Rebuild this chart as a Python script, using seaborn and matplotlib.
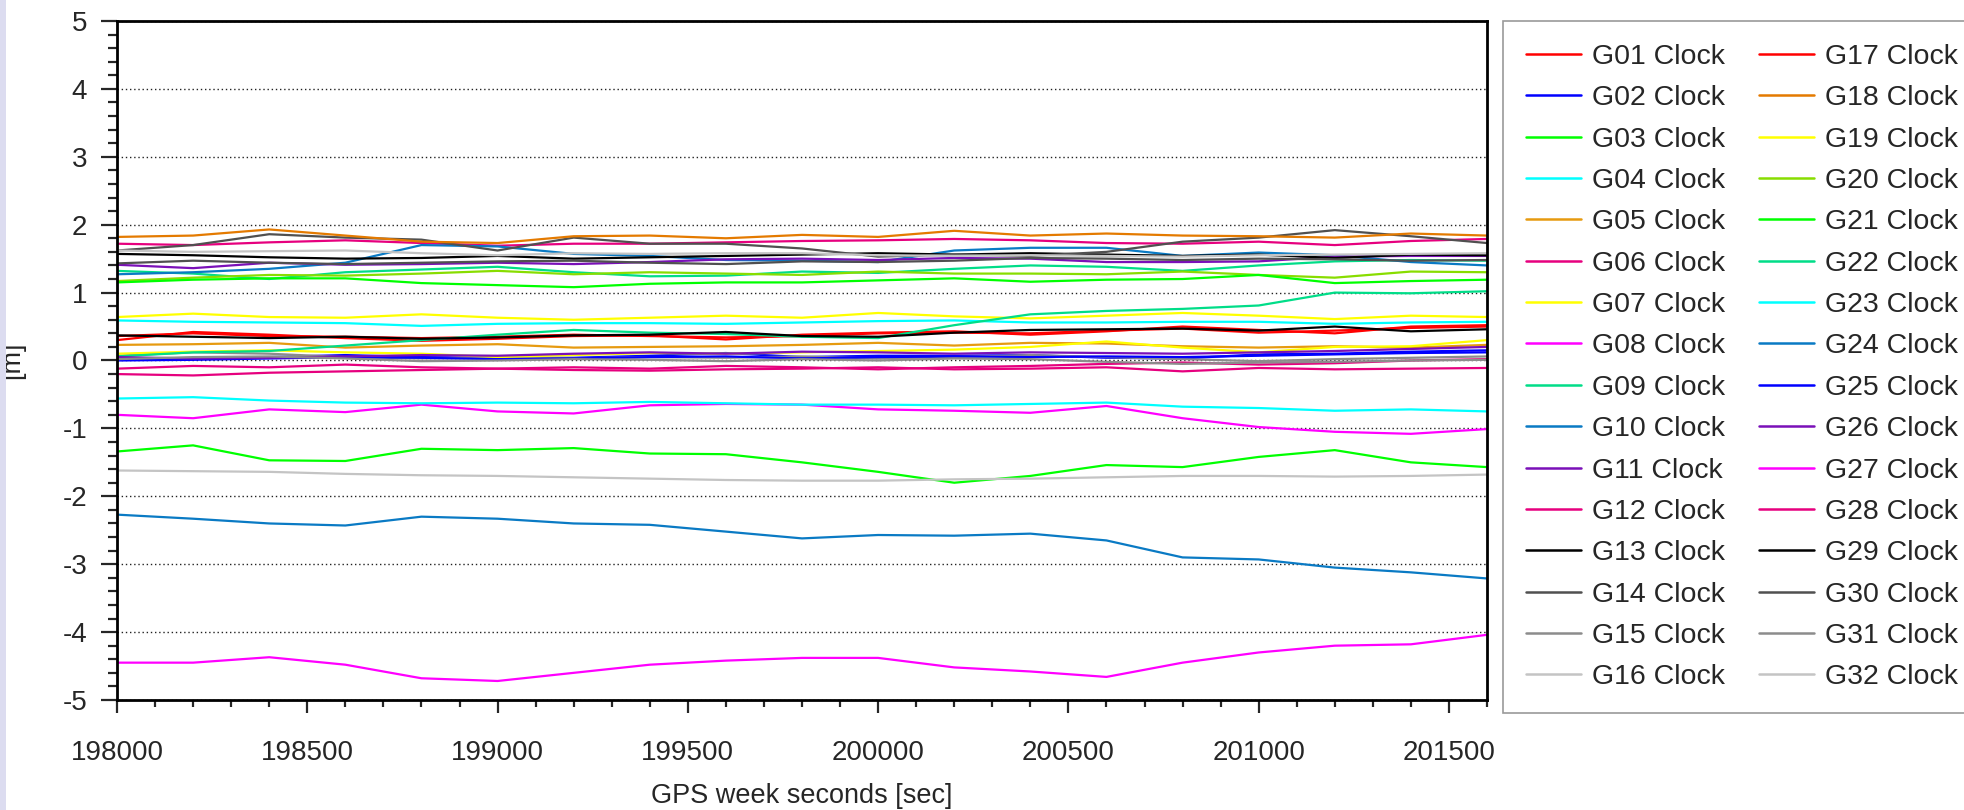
import numpy as np
import pandas as pd
import matplotlib
matplotlib.use("Agg")
import matplotlib.pyplot as plt
from matplotlib.patches import Rectangle
from matplotlib.ticker import MultipleLocator, StrMethodFormatter
import seaborn as sns

# GPS week seconds sampled every 200 s
gps_seconds = [198000, 198200, 198400, 198600, 198800, 199000, 199200, 199400, 199600, 199800,
               200000, 200200, 200400, 200600, 200800, 201000, 201200, 201400, 201600]

# satellite clock values [m]
g01 = [0.30, 0.42, 0.38, 0.33, 0.29, 0.32, 0.36, 0.37, 0.31, 0.38, 0.41, 0.43, 0.38, 0.43, 0.50, 0.45, 0.40, 0.50, 0.52]
g02 = [0.02, 0.03, 0.05, 0.08, 0.05, 0.04, 0.04, 0.07, 0.11, 0.05, 0.07, 0.07, 0.08, 0.04, 0.03, 0.09, 0.10, 0.13, 0.15]
g03 = [-1.34, -1.25, -1.47, -1.48, -1.30, -1.32, -1.29, -1.37, -1.38, -1.50, -1.64, -1.80, -1.70, -1.54, -1.57, -1.42, -1.32, -1.50, -1.57]
g04 = [0.59, 0.57, 0.56, 0.55, 0.51, 0.54, 0.55, 0.55, 0.54, 0.56, 0.58, 0.59, 0.56, 0.56, 0.57, 0.57, 0.54, 0.56, 0.57]
g05 = [0.23, 0.24, 0.26, 0.19, 0.22, 0.24, 0.19, 0.20, 0.21, 0.23, 0.26, 0.22, 0.26, 0.25, 0.21, 0.19, 0.21, 0.19, 0.23]
g06 = [1.72, 1.70, 1.74, 1.77, 1.73, 1.69, 1.72, 1.72, 1.74, 1.76, 1.77, 1.79, 1.77, 1.73, 1.72, 1.75, 1.70, 1.76, 1.79]
g07 = [0.64, 0.69, 0.64, 0.63, 0.68, 0.63, 0.60, 0.63, 0.66, 0.63, 0.70, 0.65, 0.62, 0.66, 0.70, 0.66, 0.61, 0.66, 0.64]
g08 = [-0.80, -0.85, -0.72, -0.76, -0.65, -0.75, -0.78, -0.66, -0.64, -0.65, -0.72, -0.74, -0.77, -0.67, -0.85, -0.98, -1.05, -1.08, -1.01]
g09 = [1.32, 1.28, 1.20, 1.30, 1.34, 1.38, 1.30, 1.24, 1.25, 1.31, 1.29, 1.35, 1.40, 1.38, 1.32, 1.40, 1.46, 1.48, 1.47]
g10 = [1.27, 1.30, 1.35, 1.44, 1.70, 1.68, 1.57, 1.54, 1.48, 1.47, 1.45, 1.62, 1.66, 1.66, 1.54, 1.59, 1.55, 1.45, 1.40]
g11 = [1.41, 1.36, 1.44, 1.41, 1.42, 1.44, 1.42, 1.45, 1.49, 1.50, 1.48, 1.51, 1.50, 1.45, 1.45, 1.46, 1.53, 1.54, 1.54]
g12 = [-0.12, -0.08, -0.10, -0.06, -0.10, -0.12, -0.10, -0.12, -0.08, -0.10, -0.13, -0.10, -0.08, -0.05, -0.03, -0.06, -0.04, 0.00, 0.02]
g13 = [1.57, 1.55, 1.52, 1.50, 1.51, 1.54, 1.50, 1.52, 1.54, 1.56, 1.58, 1.56, 1.58, 1.56, 1.54, 1.56, 1.51, 1.56, 1.55]
g14 = [1.62, 1.70, 1.86, 1.81, 1.78, 1.62, 1.81, 1.72, 1.72, 1.65, 1.53, 1.56, 1.54, 1.60, 1.75, 1.81, 1.92, 1.83, 1.73]
g15 = [0.07, 0.12, 0.10, 0.05, 0.03, 0.04, 0.03, 0.05, 0.04, 0.06, 0.03, 0.05, 0.08, 0.05, 0.02, -0.01, 0.02, 0.04, 0.06]
g16 = [1.62, 1.60, 1.61, 1.62, 1.58, 1.55, 1.58, 1.57, 1.58, 1.58, 1.55, 1.54, 1.55, 1.54, 1.53, 1.55, 1.56, 1.57, 1.58]
g17 = [0.36, 0.40, 0.36, 0.35, 0.33, 0.35, 0.38, 0.36, 0.34, 0.36, 0.40, 0.41, 0.40, 0.44, 0.47, 0.41, 0.44, 0.48, 0.50]
g18 = [1.82, 1.84, 1.93, 1.84, 1.75, 1.73, 1.83, 1.84, 1.80, 1.85, 1.82, 1.91, 1.84, 1.87, 1.84, 1.83, 1.81, 1.87, 1.84]
g19 = [0.10, 0.13, 0.15, 0.12, 0.10, 0.05, 0.08, 0.11, 0.10, 0.12, 0.14, 0.16, 0.20, 0.28, 0.19, 0.12, 0.20, 0.21, 0.30]
g20 = [1.17, 1.22, 1.26, 1.25, 1.28, 1.32, 1.27, 1.30, 1.28, 1.26, 1.31, 1.28, 1.28, 1.27, 1.31, 1.26, 1.22, 1.31, 1.30]
g21 = [1.15, 1.19, 1.21, 1.21, 1.14, 1.11, 1.08, 1.13, 1.15, 1.15, 1.18, 1.21, 1.16, 1.19, 1.20, 1.26, 1.14, 1.17, 1.19]
g22 = [0.06, 0.12, 0.14, 0.22, 0.30, 0.38, 0.45, 0.41, 0.39, 0.35, 0.33, 0.52, 0.68, 0.73, 0.76, 0.81, 1.00, 0.99, 1.02]
g23 = [-0.56, -0.54, -0.59, -0.62, -0.63, -0.62, -0.63, -0.61, -0.63, -0.65, -0.65, -0.66, -0.64, -0.62, -0.68, -0.70, -0.74, -0.72, -0.75]
g24 = [-2.27, -2.33, -2.40, -2.43, -2.30, -2.33, -2.40, -2.42, -2.52, -2.62, -2.57, -2.58, -2.55, -2.65, -2.90, -2.93, -3.05, -3.12, -3.21]
g25 = [0.00, 0.01, 0.03, 0.05, 0.04, 0.02, 0.03, 0.05, 0.06, 0.03, 0.05, 0.06, 0.05, 0.06, 0.05, 0.07, 0.09, 0.11, 0.12]
g26 = [0.05, 0.03, 0.04, 0.06, 0.08, 0.07, 0.10, 0.12, 0.10, 0.13, 0.12, 0.10, 0.12, 0.11, 0.10, 0.12, 0.14, 0.17, 0.20]
g27 = [-4.45, -4.45, -4.37, -4.48, -4.68, -4.72, -4.60, -4.48, -4.42, -4.38, -4.38, -4.52, -4.58, -4.66, -4.45, -4.30, -4.20, -4.18, -4.04]
g28 = [-0.20, -0.22, -0.18, -0.16, -0.14, -0.12, -0.14, -0.15, -0.13, -0.12, -0.10, -0.13, -0.12, -0.10, -0.16, -0.11, -0.13, -0.12, -0.11]
g29 = [0.37, 0.35, 0.33, 0.35, 0.32, 0.34, 0.37, 0.38, 0.42, 0.36, 0.35, 0.41, 0.45, 0.46, 0.47, 0.44, 0.50, 0.43, 0.46]
g30 = [1.43, 1.47, 1.44, 1.42, 1.44, 1.46, 1.47, 1.44, 1.42, 1.46, 1.45, 1.47, 1.51, 1.50, 1.48, 1.50, 1.49, 1.47, 1.48]
g31 = [0.02, 0.05, 0.06, 0.03, -0.01, 0.00, 0.02, 0.01, -0.01, 0.02, 0.00, 0.03, 0.02, -0.02, -0.05, -0.03, -0.02, 0.00, 0.01]
g32 = [-1.62, -1.63, -1.64, -1.67, -1.69, -1.70, -1.72, -1.74, -1.76, -1.77, -1.77, -1.75, -1.74, -1.72, -1.70, -1.70, -1.71, -1.70, -1.68]

series = [g01, g02, g03, g04, g05, g06, g07, g08, g09, g10, g11, g12, g13, g14, g15, g16,
          g17, g18, g19, g20, g21, g22, g23, g24, g25, g26, g27, g28, g29, g30, g31, g32]
labels = ["G%02d Clock" % i for i in range(1, 33)]
colors = ["#ff0000", "#0000ff", "#00ff00", "#00ffff", "#e69a10", "#e6007e", "#ffff00", "#ff00ff",
          "#00dd88", "#0a7ac4", "#7a10b8", "#e6007e", "#000000", "#505050", "#8c8c8c", "#c4c4c4",
          "#ff0000", "#e47a00", "#ffff00", "#88dd00", "#00ff00", "#00dd88", "#00ffff", "#0a7ac4",
          "#0000ff", "#7a10b8", "#ff00ff", "#e6007e", "#000000", "#505050", "#8c8c8c", "#c4c4c4"]

# long table for seaborn
df = pd.DataFrame({
    "sec": np.tile(gps_seconds, len(series)),
    "clock": np.concatenate(series),
    "sat": np.repeat(labels, len(gps_seconds)),
})

sns.set_style("ticks")
plt.rcParams["font.family"] = ["Liberation Sans", "DejaVu Sans"]
plt.rcParams["axes.unicode_minus"] = False

fig = plt.figure(figsize=(19.64, 8.10), dpi=100)
fig.add_artist(Rectangle((0, 0), 6 / 1964, 1, transform=fig.transFigure,
                         facecolor="#dcdcf0", edgecolor="none"))
ax = fig.add_axes([117 / 1964, 1 - 700 / 810, 1370 / 1964, 679 / 810])

sns.lineplot(data=df, x="sec", y="clock", hue="sat", hue_order=labels,
             palette=dict(zip(labels, colors)), linewidth=1.6, legend=False, ax=ax)

ax.set_xlim(198000, 201600)
ax.set_ylim(-5, 5)
ax.xaxis.set_major_locator(MultipleLocator(500))
ax.xaxis.set_minor_locator(MultipleLocator(100))
ax.yaxis.set_major_locator(MultipleLocator(1))
ax.yaxis.set_minor_locator(MultipleLocator(0.2))
ax.xaxis.set_major_formatter(StrMethodFormatter("{x:.0f}"))
ax.yaxis.set_major_formatter(StrMethodFormatter("{x:.0f}"))
ax.yaxis.grid(True, which="major", linestyle=(0, (1, 2)), color="#222222", linewidth=1.0)
ax.set_axisbelow(True)

for sp in ax.spines.values():
    sp.set_linewidth(2.0)
    sp.set_color("black")

ax.tick_params(axis="y", which="major", direction="out", length=11.5, width=1.6, pad=10, labelsize=20)
ax.tick_params(axis="y", which="minor", direction="out", length=6.5, width=1.6)
ax.tick_params(axis="x", which="major", direction="out", length=9, width=1.6, pad=20, labelsize=20)
ax.tick_params(axis="x", which="minor", direction="out", length=5, width=1.6)

ax.set_xlabel("GPS week seconds [sec]", fontsize=19.5)
ax.set_ylabel("[m]", fontsize=19.5)
ax.xaxis.set_label_coords(0.5, -0.122)
ax.yaxis.set_label_coords(-0.067, 0.5)

handles = ax.get_lines()[:len(labels)]
leg = fig.legend(handles, labels, loc="upper left", bbox_to_anchor=(1503 / 1964, 1 - 21 / 810),
                 ncol=2, fontsize=20.5, frameon=True, fancybox=False, borderaxespad=0,
                 borderpad=0.8, labelspacing=0.54, handlelength=1.95, handletextpad=0.36,
                 columnspacing=1.2)
leg.get_frame().set_edgecolor("#808080")
leg.get_frame().set_linewidth(1.2)
for ln in leg.get_lines():
    ln.set_linewidth(1.8)

fig.savefig("out.png", dpi=100)
